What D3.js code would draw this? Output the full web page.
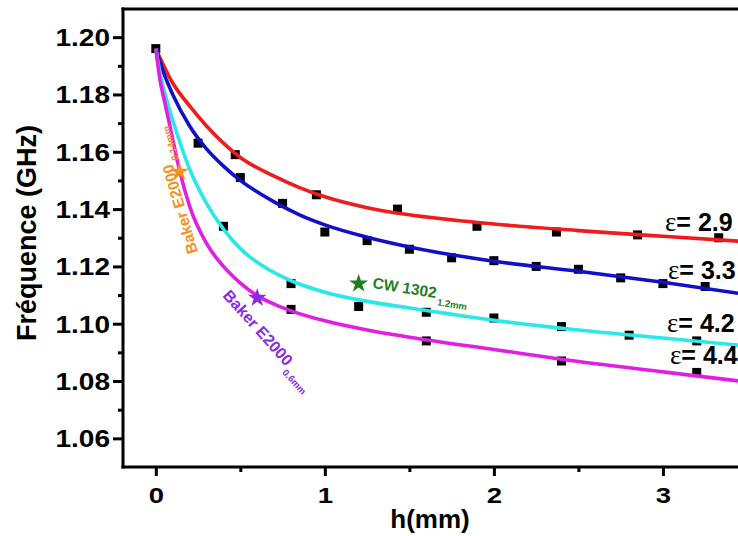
<!DOCTYPE html>
<html><head><meta charset="utf-8">
<script src="https://cdn.jsdelivr.net/npm/d3@7"></script>
<style>body{margin:0;background:#fff}svg{display:block}</style>
</head><body>
<svg id="c" width="738" height="536"></svg>
<script>
// ---- data ----
const xTicks = [0, 1, 2, 3];
const xMinorTicks = [0.5, 1.5, 2.5];
const yTicks = [1.06, 1.08, 1.10, 1.12, 1.14, 1.16, 1.18, 1.20];
const yMinorTicks = [1.07, 1.09, 1.11, 1.13, 1.15, 1.17, 1.19];

// measured points (squares)
const ptsEps29 = [[0,1.196],[0.47,1.159],[0.95,1.145],[1.43,1.140],[1.90,1.134],[2.37,1.132],[2.85,1.131],[3.33,1.130]];
const ptsEps33 = [[0.25,1.163],[0.50,1.151],[0.75,1.142],[1.00,1.132],[1.25,1.129],[1.50,1.126],[1.75,1.123],[2.00,1.122],[2.25,1.120],[2.50,1.119],[2.75,1.116],[3.00,1.114],[3.25,1.113]];
const ptsEps42 = [[0.40,1.134],[0.80,1.114],[1.20,1.106],[1.60,1.104],[2.00,1.102],[2.40,1.099],[2.80,1.096],[3.20,1.094]];
const ptsEps44 = [[0.80,1.105],[1.60,1.094],[2.40,1.087],[3.20,1.083]];

// fitted curves
const fitEps29 = [[0,1.196],[0.1,1.1840],[0.2,1.1760],[0.3,1.1690],[0.4,1.1630],[0.5,1.1580],[0.7,1.1515],[0.85,1.1475],[1.0,1.1443],[1.25,1.1405],[1.5,1.1380],[2.0,1.1348],[2.5,1.1325],[3.0,1.1305],[3.45,1.1288]];
const fitEps33 = [[0,1.196],[0.05,1.1870],[0.1,1.1800],[0.2,1.1690],[0.3,1.1610],[0.4,1.1550],[0.5,1.1500],[0.7,1.1425],[0.85,1.1380],[1.0,1.1345],[1.25,1.1302],[1.5,1.1268],[2.0,1.1218],[2.5,1.1183],[3.0,1.1145],[3.45,1.1106]];
const fitEps42 = [[0,1.196],[0.03,1.1860],[0.06,1.1790],[0.1,1.1710],[0.15,1.1620],[0.2,1.1540],[0.3,1.1420],[0.4,1.1330],[0.5,1.1262],[0.65,1.1195],[0.8,1.1150],[1.0,1.1110],[1.25,1.1078],[1.5,1.1055],[2.0,1.1012],[2.5,1.0978],[3.0,1.0950],[3.45,1.0925]];
const fitEps44 = [[0,1.196],[0.025,1.1850],[0.05,1.1780],[0.08,1.1700],[0.11,1.1615],[0.14,1.1536],[0.2,1.1410],[0.3,1.1280],[0.4,1.1200],[0.5,1.1142],[0.6,1.1098],[0.7,1.1068],[0.8,1.1045],[1.0,1.1010],[1.25,1.0978],[1.5,1.0953],[2.0,1.0910],[2.5,1.0868],[3.0,1.0832],[3.45,1.0800]];

const epsLabels = ["2.9", "3.3", "4.2", "4.4"];
const seriesColors = ["#ee1c1c", "#1010c8", "#2ae8e8", "#e21ee2"];

// reference materials (stars)
const refNames = ["Baker E2000", "Baker E2000", "CW 1302"];
const refSubs = ["0.14mm", "0.6mm", "1.2mm"];
const refX = [0.14, 0.60, 1.20];
const refY = [1.153, 1.109, 1.114];
const refColors = ["#f7901e", "#8a2be2", "#1f7f1f"];

// ---- drawing ----
const svg = d3.select("#c");
const x = d3.scaleLinear().domain([-0.2, 3.45]).range([122, 739]);
const y = d3.scaleLinear().domain([1.05, 1.21]).range([467, 8.5]);
const font = "'Liberation Sans', Arial, sans-serif";

svg.append("defs").append("clipPath").attr("id","clip")
  .append("rect").attr("x", 123).attr("y", 9).attr("width", 620).attr("height", 458);

// squares
const allPts = [ptsEps29, ptsEps33, ptsEps42, ptsEps44];
const gp = svg.append("g");
allPts.forEach(p => {
  gp.selectAll(null).data(p).enter().append("rect")
    .attr("x", d => x(d[0]) - 4.5).attr("y", d => y(d[1]) - 4.5)
    .attr("width", 9).attr("height", 9).attr("fill", "#000");
});

// curves
const line = d3.line().x(d => x(d[0])).y(d => y(d[1])).curve(d3.curveMonotoneX);
const fits = [fitEps29, fitEps33, fitEps42, fitEps44];
const gc = svg.append("g").attr("clip-path", "url(#clip)");
fits.forEach((f, i) => {
  gc.append("path").datum(f).attr("d", line).attr("fill", "none")
    .attr("stroke", seriesColors[i]).attr("stroke-width", 3.6).attr("stroke-linejoin","round");
});

// axes
const ax = svg.append("g").attr("transform", "translate(0,467)");
ax.call(d3.axisBottom(x).tickValues(xTicks).tickSize(9).tickFormat(d3.format("d")));
const axm = svg.append("g").attr("transform", "translate(0,467)");
axm.call(d3.axisBottom(x).tickValues(xMinorTicks).tickSize(5).tickFormat(""));
const ay = svg.append("g").attr("transform", "translate(123,0)");
ay.call(d3.axisLeft(y).tickValues(yTicks).tickSize(10).tickFormat(d3.format(".2f")));
const aym = svg.append("g").attr("transform", "translate(123,0)");
aym.call(d3.axisLeft(y).tickValues(yMinorTicks).tickSize(5).tickFormat(""));
[ax, axm, ay, aym].forEach(g => {
  g.select(".domain").remove();
  g.selectAll(".tick line").attr("stroke", "#000").attr("stroke-width", 3);
});
ax.selectAll(".tick text").attr("y", 0).attr("dy", 0)
  .attr("transform", "translate(0,36) scale(1.25,1)")
  .attr("font-family", font).attr("font-weight", "bold").attr("font-size", 22).attr("fill", "#000");
ay.selectAll(".tick text").attr("x", 0).attr("dy", "0.36em")
  .attr("transform", "translate(-13,0) scale(1.22,1)")
  .attr("font-family", font).attr("font-weight", "bold").attr("font-size", 23).attr("fill", "#000");

// frame lines
svg.append("line").attr("x1", 123).attr("x2", 123).attr("y1", 7.5).attr("y2", 468.5).attr("stroke", "#000").attr("stroke-width", 3);
svg.append("line").attr("x1", 121.5).attr("x2", 738).attr("y1", 467).attr("y2", 467).attr("stroke", "#000").attr("stroke-width", 3);
svg.append("line").attr("x1", 121.5).attr("x2", 738).attr("y1", 9).attr("y2", 9).attr("stroke", "#000").attr("stroke-width", 3);

// axis titles
svg.append("text").attr("x", 430).attr("y", 528).attr("text-anchor", "middle")
  .attr("font-family", font).attr("font-weight", "bold").attr("font-size", 26).text("h(mm)");
svg.append("text").attr("transform", "translate(36,233) rotate(-90)").attr("text-anchor", "middle")
  .attr("font-family", font).attr("font-weight", "bold").attr("font-size", 27).text("Fréquence (GHz)");

// epsilon labels
const epsPos = [[665, 231], [668, 279], [667, 332], [670, 364]];
epsLabels.forEach((t, i) => {
  const tx = svg.append("text").attr("x", epsPos[i][0]).attr("y", epsPos[i][1])
    .attr("font-size", 25).attr("fill", "#000");
  tx.append("tspan").attr("font-family", "'Liberation Serif', 'Times New Roman', serif").attr("font-size", 27).text("ε");
  tx.append("tspan").attr("font-family", font).attr("font-weight", "bold").text("= " + t);
});

// stars
svg.selectAll(".star").data(refX).enter().append("path")
  .attr("d", d3.symbol().type(d3.symbolStar).size(110))
  .attr("transform", (d, i) => `translate(${x(d)},${y(refY[i])})`)
  .attr("fill", (d, i) => refColors[i]);

// reference annotations
const annPos = [[198, 252, -106, 15.5], [222, 296, 48, 16], [372, 288, 9, 15.5]];
refNames.forEach((n, i) => {
  const p = annPos[i];
  const t = svg.append("text").attr("transform", `translate(${p[0]},${p[1]}) rotate(${p[2]})`)
    .attr("font-family", font).attr("font-weight", "bold").attr("font-size", p[3]).attr("fill", refColors[i]);
  t.append("tspan").text(n);
  t.append("tspan").attr("font-size", 9.5).attr("dx", 2).attr("dy", 7).text(refSubs[i]);
});
</script>
</body></html>
